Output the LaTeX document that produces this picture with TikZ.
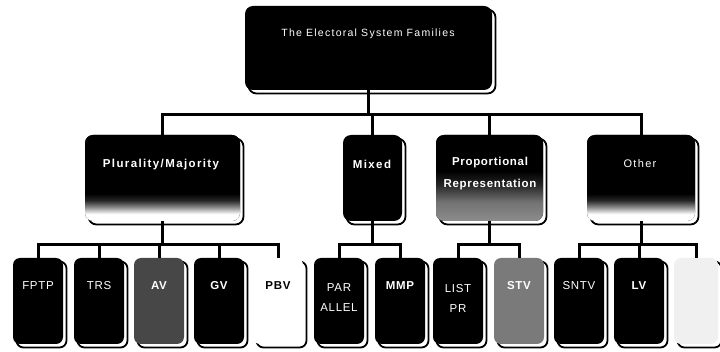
\documentclass[tikz,border=0pt]{standalone}
\usepackage{fontspec}
\setmainfont{Liberation Sans}
\newfontfamily\spaced[LetterSpace=6]{Liberation Sans}
\newfontfamily\wide[LetterSpace=12]{Liberation Sans}
\usetikzlibrary{shadows}
\pgfdeclareverticalshading{fadewhite}{100bp}{color(0bp)=(white); color(29bp)=(white); color(33bp)=(black!45); color(37bp)=(black!85); color(41bp)=(black); color(100bp)=(black)}
\pgfdeclareverticalshading{fadegray}{100bp}{color(0bp)=(black!45); color(25bp)=(black!45); color(36bp)=(black!55); color(46bp)=(black!85); color(54bp)=(black); color(100bp)=(black)}
\begin{document}
\begin{tikzpicture}[x=1pt,y=-1pt,
  box/.style={rectangle, rounded corners=8pt, inner sep=0pt, draw=none,
    general shadow={shadow xshift=3.5pt, shadow yshift=-3.5pt, draw=black, line width=1.8pt, fill=white}},
  midbox/.style={box, minimum height=86pt, fill=black},
  leaf/.style={box, rounded corners=7pt, minimum width=50pt, minimum height=86pt, fill=black},
  lbl/.style={text=white, font=\spaced\bfseries\fontsize{11.5}{12}\selectfont, inner sep=0pt, align=center},
  lightlbl/.style={lbl, font=\spaced\fontsize{11.5}{12}\selectfont},
  midlbl/.style={lbl, font=\wide\bfseries\fontsize{11.5}{12}\selectfont},
  conn/.style={draw=black, line width=3pt, line join=miter}]
\useasboundingbox (0,0) rectangle (720,352);
\coordinate (bus1) at (0,115);
\coordinate (bus2) at (0,245);
% top
\node[box, fill=black, minimum width=247pt, minimum height=84pt] (top) at (368.5,48) {};
\node[lbl, font=\wide\fontsize{10.5}{12}\selectfont] (ttop) at (368,34) {The Electoral System Families};
% second row
\node[midbox, minimum width=155pt, shade, shading=fadewhite] (PM) at (162.5,178) {};
\node[midbox, minimum width=59pt] (Mix) at (372.5,178) {};
\node[midbox, minimum width=107pt, shade, shading=fadegray] (PR) at (489.5,178) {};
\node[midbox, minimum width=108pt, shade, shading=fadewhite] (Oth) at (641,178) {};
\node[midlbl] (tPM) at (161,165) {Plurality/Majority};
\node[midlbl] (tMix) at (372,164) {Mixed};
\node[lbl, font=\spaced\bfseries\fontsize{11.5}{12}\selectfont] (tPR) at (490,174) {Proportional\\[10pt]Representation};
\node[lbl, font=\wide\fontsize{11}{12}\selectfont] (tOth) at (640,164) {Other};
% leaves
\node[leaf] (FPTP) at (38,301) {};
\node[leaf] (TRS) at (99,301) {};
\node[leaf, fill=black!72] (AV) at (159,301) {};
\node[leaf] (GV) at (219,301) {};
\node[leaf, fill=white] (PBV) at (278,301) {};
\node[leaf] (PAR) at (339,301) {};
\node[leaf] (MMP) at (400,301) {};
\node[leaf] (LIST) at (458,301) {};
\node[leaf, fill=black!52] (STV) at (519,301) {};
\node[leaf] (SNTV) at (579,301) {};
\node[leaf] (LV) at (639,301) {};
\node[leaf, fill=black!6, minimum width=44pt] (X) at (696,301) {};
\node[lightlbl] (tFPTP) at (38,286) {FPTP};
\node[lightlbl] (tTRS) at (99,286) {TRS};
\node[lbl] (tAV) at (159,286) {AV};
\node[lbl] (tGV) at (219,286) {GV};
\node[lbl, text=black] (tPBV) at (278,286) {PBV};
\node[lightlbl] (tPAR) at (339,298) {PAR\\[8pt]ALLEL};
\node[lbl] (tMMP) at (400,286) {MMP};
\node[lightlbl] (tLIST) at (458,298) {LIST\\[8pt]PR};
\node[lbl] (tSTV) at (519,286) {STV};
\node[lightlbl] (tSNTV) at (579,286) {SNTV};
\node[lbl] (tLV) at (639,286) {LV};
% connectors level 1
\draw[conn] (top.south) -- (top.south |- bus1);
\draw[conn] (PM.north) |- (Oth.north |- bus1) -- (Oth.north);
\draw[conn] (PR.north) -- (PR.north |- bus1);
\draw[conn] (Mix.north) -- (Mix.north |- bus1);
% connectors level 2
\draw[conn] (PM.south) -- (PM.south |- bus2);
\draw[conn] (FPTP.north) |- (PBV.north |- bus2) -- (PBV.north);
\draw[conn] (TRS.north) -- (TRS.north |- bus2);
\draw[conn] (AV.north) -- (AV.north |- bus2);
\draw[conn] (GV.north) -- (GV.north |- bus2);
\draw[conn] (Mix.south) -- (Mix.south |- bus2);
\draw[conn] (PAR.north) |- (MMP.north |- bus2) -- (MMP.north);
\draw[conn] (PR.south) -- (PR.south |- bus2);
\draw[conn] (LIST.north) |- (STV.north |- bus2) -- (STV.north);
\draw[conn] (Oth.south) -- (Oth.south |- bus2);
\draw[conn] (SNTV.north) |- (X.north |- bus2) -- (X.north);
\draw[conn] (LV.north) -- (LV.north |- bus2);
\end{tikzpicture}
\end{document}
